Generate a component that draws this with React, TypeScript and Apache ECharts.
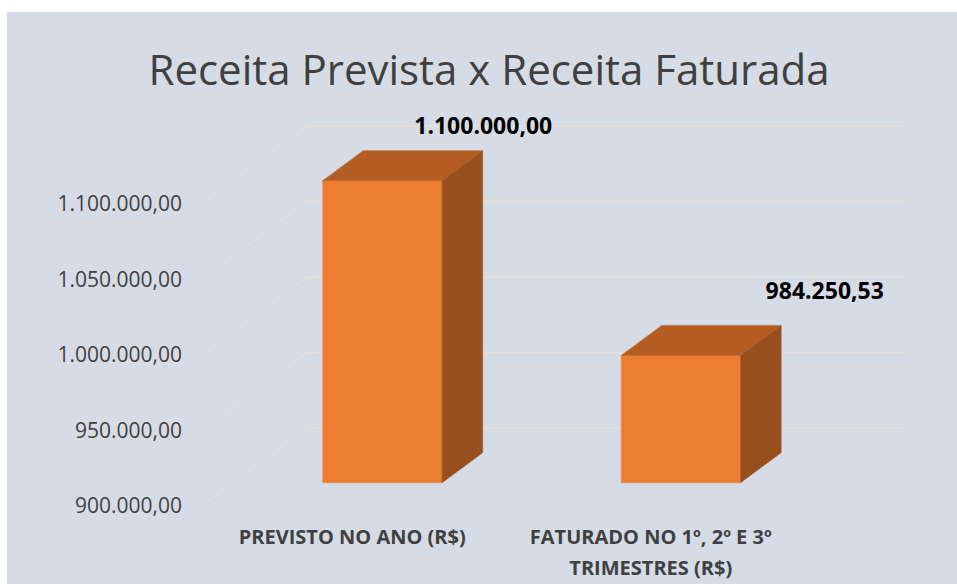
import React, { useEffect, useRef } from "react";
import * as echarts from "echarts";

const titleText = "Receita Prevista x Receita Faturada";
const categories = ["PREVISTO NO ANO (R$)", "FATURADO NO 1º, 2º E 3º\nTRIMESTRES (R$)"];
const values = [1100000, 984250.53];
const yMin = 900000;
const yMax = 1100000;
const yInterval = 50000;
const yTicks = [900000, 950000, 1000000, 1050000, 1100000];
// label offsets (style) relative to the category point of each value
const labelOffsets = [[131, -78], [174, -88]];

const DEPTH = [104, -77];
const BAR_FRONT = 0.29;
const BAR_BACK = 0.68;
const BAR_WIDTH = 0.4;
const FONT = "'Open Sans', 'Noto Sans', sans-serif";

function fmt(v: number): string {
  const [i, d] = Math.abs(v).toFixed(2).split(".");
  return i.replace(/\B(?=(\d{3})+(?!\d))/g, ".") + "," + d;
}

export default function App() {
  const ref = useRef<HTMLDivElement>(null);
  useEffect(() => {
    if (!ref.current) return;
    const chart = echarts.init(ref.current, undefined, { renderer: "svg" });
    const option: any = {
      animation: false,
      backgroundColor: "#ffffff",
      graphic: [
        {
          type: "rect",
          z: -10,
          silent: true,
          shape: { x: 7.5, y: 12.5, width: 980, height: 600 },
          style: { fill: "#D6DCE5", stroke: "#D9D9D9", lineWidth: 1 },
        },
        {
          type: "text",
          z: 10,
          x: 489,
          y: 68,
          style: {
            text: titleText,
            fill: "#404040",
            font: `42px ${FONT}`,
            textAlign: "center",
            textVerticalAlign: "middle",
          },
        },
      ],
      grid: { left: 203, top: 203, width: 597, height: 302, containLabel: false },
      xAxis: {
        type: "category",
        data: categories,
        axisLine: { show: false },
        axisTick: { show: false },
        splitLine: { show: false },
        axisLabel: {
          color: "#404040",
          fontFamily: FONT,
          fontWeight: "bold",
          fontSize: 20,
          lineHeight: 31,
          margin: 16,
          interval: 0,
        },
      },
      yAxis: {
        type: "value",
        min: yMin,
        max: yMax,
        interval: yInterval,
        axisLine: { show: false },
        axisTick: { show: false },
        splitLine: { show: false },
        axisLabel: {
          color: "#404040",
          fontFamily: FONT,
          fontSize: 21,
          margin: 21,
          formatter: (v: number) => fmt(v),
        },
      },
      series: [
        {
          type: "custom",
          z: 1,
          silent: true,
          data: yTicks.map((v) => [0, v]),
          renderItem: (params: any, api: any) => {
            const cs = params.coordSys;
            const p = api.coord([0, api.value(1)]);
            const left = cs.x;
            const right = cs.x + cs.width;
            return {
              type: "polyline",
              shape: {
                points: [
                  [left, p[1]],
                  [left + DEPTH[0], p[1] + DEPTH[1]],
                  [right + DEPTH[0], p[1] + DEPTH[1]],
                ],
              },
              style: { stroke: "#E3DFDA", lineWidth: 1.3, fill: "none" },
            };
          },
        },
        {
          type: "custom",
          z: 2,
          data: values.map((v, i) => [i, v]),
          renderItem: (params: any, api: any) => {
            const idx = api.value(0);
            const val = api.value(1);
            const top = api.coord([idx, val]);
            const base = api.coord([idx, yMin]);
            const bw = api.size([1, 0])[0] * BAR_WIDTH;
            const o1 = [DEPTH[0] * BAR_FRONT, DEPTH[1] * BAR_FRONT];
            const d = [DEPTH[0] * (BAR_BACK - BAR_FRONT), DEPTH[1] * (BAR_BACK - BAR_FRONT)];
            const x0 = top[0] - bw / 2 + o1[0];
            const x1 = x0 + bw;
            const y0 = top[1] + o1[1];
            const y1 = base[1] + o1[1];
            const off = labelOffsets[params.dataIndex];
            return {
              type: "group",
              children: [
                {
                  type: "rect",
                  shape: { x: x0, y: y0, width: bw, height: y1 - y0 },
                  style: { fill: "#ED7D31", stroke: "#E8843F", lineWidth: 0.6 },
                },
                {
                  type: "polygon",
                  shape: {
                    points: [
                      [x0, y0],
                      [x0 + d[0], y0 + d[1]],
                      [x1 + d[0], y0 + d[1]],
                      [x1, y0],
                    ],
                  },
                  style: { fill: "#B45C22", stroke: "#BC6A34", lineWidth: 0.6 },
                },
                {
                  type: "polygon",
                  shape: {
                    points: [
                      [x1, y0],
                      [x1 + d[0], y0 + d[1]],
                      [x1 + d[0], y1 + d[1]],
                      [x1, y1],
                    ],
                  },
                  style: { fill: "#964F1D", stroke: "#A05A2A", lineWidth: 0.6 },
                },
                {
                  type: "text",
                  x: top[0] + off[0],
                  y: top[1] + off[1],
                  style: {
                    text: fmt(val),
                    fill: "#000000",
                    font: `bold 23px ${FONT}`,
                    textAlign: "center",
                    textVerticalAlign: "middle",
                  },
                },
              ],
            };
          },
        },
      ],
    };
    chart.setOption(option);
    return () => chart.dispose();
  }, []);
  return (
    <div
      ref={ref}
      style={{ position: "fixed", left: 0, top: 0, width: 957, height: 584 }}
    />
  );
}
